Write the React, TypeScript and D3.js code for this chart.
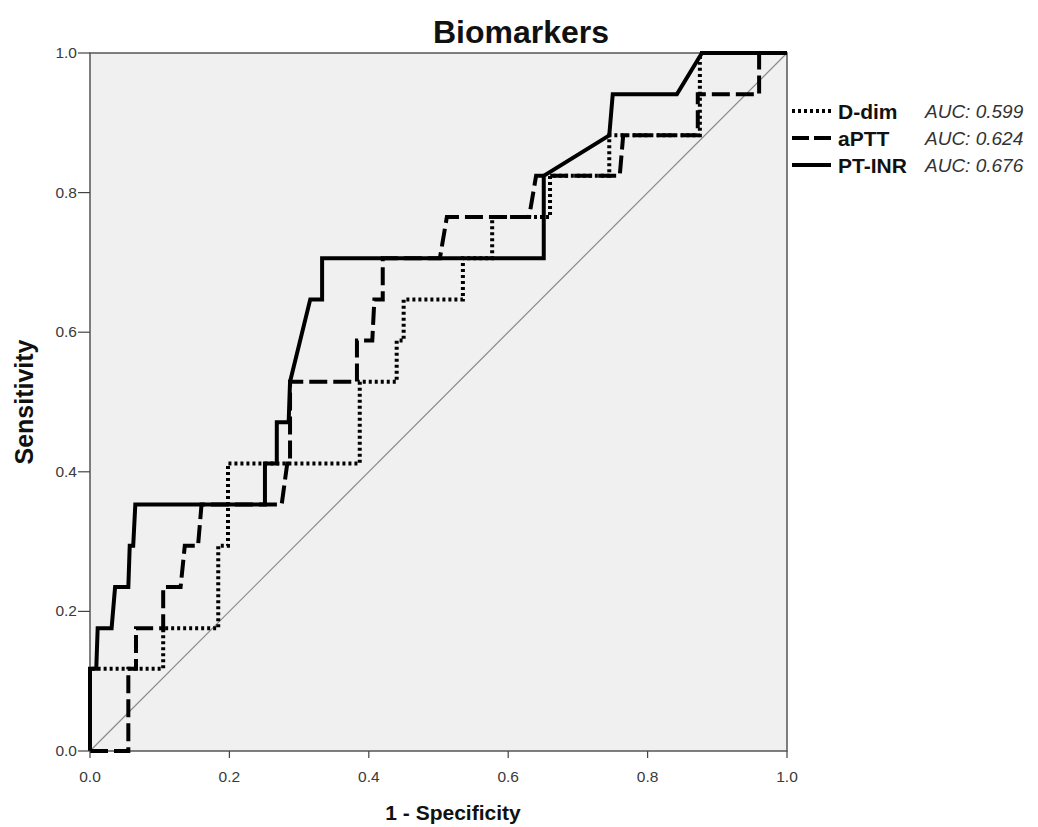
import React from 'react';
import * as d3 from 'd3';

// ROC points (1 - specificity, sensitivity)
const dDimX = [0, 0, 0.105, 0.105, 0.184, 0.184, 0.198, 0.198, 0.387, 0.387, 0.44, 0.44, 0.45, 0.45, 0.535, 0.535, 0.577, 0.577, 0.66, 0.66, 0.745, 0.745, 0.875, 0.875, 1];
const dDimY = [0, 0.118, 0.118, 0.176, 0.176, 0.294, 0.294, 0.412, 0.412, 0.529, 0.529, 0.588, 0.588, 0.647, 0.647, 0.706, 0.706, 0.765, 0.765, 0.824, 0.824, 0.882, 0.882, 1, 1];

const apttX = [0, 0.055, 0.055, 0.066, 0.066, 0.105, 0.105, 0.13, 0.136, 0.155, 0.16, 0.275, 0.283, 0.287, 0.287, 0.383, 0.383, 0.405, 0.408, 0.42, 0.42, 0.502, 0.512, 0.63, 0.64, 0.76, 0.765, 0.872, 0.872, 0.96, 0.96, 1];
const apttY = [0, 0, 0.118, 0.118, 0.176, 0.176, 0.235, 0.235, 0.294, 0.294, 0.353, 0.353, 0.412, 0.412, 0.529, 0.529, 0.588, 0.588, 0.647, 0.647, 0.706, 0.706, 0.765, 0.765, 0.824, 0.824, 0.882, 0.882, 0.941, 0.941, 1, 1];

const ptInrX = [0, 0, 0.009, 0.011, 0.031, 0.036, 0.055, 0.057, 0.062, 0.065, 0.251, 0.251, 0.268, 0.268, 0.285, 0.287, 0.316, 0.333, 0.333, 0.651, 0.651, 0.745, 0.75, 0.842, 0.878, 1];
const ptInrY = [0, 0.118, 0.118, 0.176, 0.176, 0.235, 0.235, 0.294, 0.294, 0.353, 0.353, 0.412, 0.412, 0.471, 0.471, 0.529, 0.647, 0.647, 0.706, 0.706, 0.824, 0.882, 0.941, 0.941, 1, 1];

const seriesNames = ['D-dim', 'aPTT', 'PT-INR'];
const aucLabels = ['AUC: 0.599', 'AUC: 0.624', 'AUC: 0.676'];
const tickValues = [0, 0.2, 0.4, 0.6, 0.8, 1.0];

const dashes = ['3,3', '18,6', null];

export default function App() {
  const left = 90, right = 787, top = 53, bottom = 751;
  const x = d3.scaleLinear().domain([0, 1]).range([left, right]);
  const y = d3.scaleLinear().domain([0, 1]).range([bottom, top]);

  const line = d3.line<[number, number]>()
    .x(d => x(d[0]))
    .y(d => y(d[1]));

  const series = [
    d3.zip(dDimX, dDimY) as [number, number][],
    d3.zip(apttX, apttY) as [number, number][],
    d3.zip(ptInrX, ptInrY) as [number, number][],
  ];

  const font = 'Arial, "Liberation Sans", sans-serif';

  return (
    <svg width={1038} height={827} style={{ position: 'absolute', left: 0, top: 0, background: '#fff' }}
      fontFamily={font}>
      <text x={521} y={43} textAnchor="middle" fontSize={32} fontWeight="bold" fill="#111">Biomarkers</text>

      <rect x={left} y={top} width={right - left} height={bottom - top} fill="#f0f0f0" stroke="#555" strokeWidth={1.5} />

      {/* reference diagonal */}
      <line x1={x(0)} y1={y(0)} x2={x(1)} y2={y(1)} stroke="#8a8a8a" strokeWidth={1.2} />

      {series.map((pts, i) => (
        <path key={seriesNames[i]} d={line(pts) || ''} fill="none" stroke="#000" strokeWidth={4}
          strokeDasharray={dashes[i] || undefined} strokeLinejoin="miter" />
      ))}

      {/* y axis */}
      {tickValues.map(t => (
        <g key={'y' + t}>
          <line x1={left - 12} x2={left} y1={y(t)} y2={y(t)} stroke="#444" strokeWidth={1.2} />
          <text x={left - 13} y={y(t) + 5} textAnchor="end" fontSize={15.5} fill="#3a3a3a">{t.toFixed(1)}</text>
        </g>
      ))}
      {/* x axis */}
      {tickValues.map(t => (
        <g key={'x' + t}>
          <line x1={x(t)} x2={x(t)} y1={bottom} y2={bottom + 7} stroke="#444" strokeWidth={1.2} />
          <text x={x(t)} y={bottom + 31} textAnchor="middle" fontSize={15.5} fill="#3a3a3a">{t.toFixed(1)}</text>
        </g>
      ))}

      <text x={453} y={820} textAnchor="middle" fontSize={21} fontWeight="bold" fill="#111">1 - Specificity</text>
      <text transform="translate(33,402) rotate(-90)" textAnchor="middle" fontSize={25} fontWeight="bold" fill="#111">Sensitivity</text>

      {/* legend */}
      {seriesNames.map((name, i) => {
        const ly = 111 + i * 27;
        return (
          <g key={'leg' + name}>
            <line x1={792} x2={831} y1={ly} y2={ly} stroke="#000" strokeWidth={4}
              strokeDasharray={i === 1 ? '17,5' : (dashes[i] || undefined)} />
            <text x={838} y={ly + 8} fontSize={21} fontWeight="bold" fill="#111">{name}</text>
            <text x={925} y={ly + 7} fontSize={19} fontStyle="italic" fill="#333">{aucLabels[i]}</text>
          </g>
        );
      })}
    </svg>
  );
}
